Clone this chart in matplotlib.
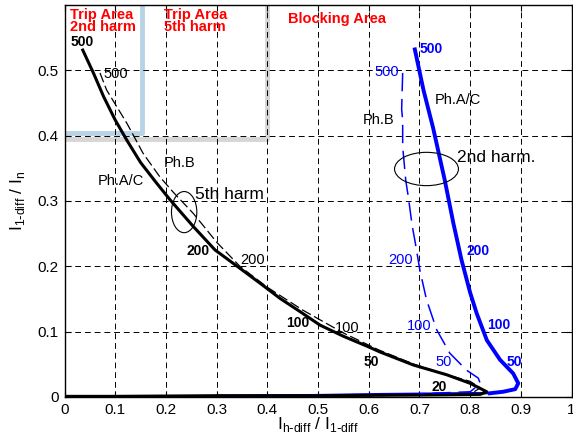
import matplotlib
matplotlib.use("Agg")
import matplotlib.pyplot as plt
from matplotlib.patches import Ellipse

plt.rcParams['font.family'] = ['Liberation Sans', 'DejaVu Sans']

# ---- data ----
xticks = [0, 0.1, 0.2, 0.3, 0.4, 0.5, 0.6, 0.7, 0.8, 0.9, 1]
yticks = [0, 0.1, 0.2, 0.3, 0.4, 0.5]

# 5th harmonic, Ph.A/C (solid black)
h5_ac_x = [0.036, 0.057, 0.077, 0.100, 0.123, 0.150, 0.180, 0.208, 0.254, 0.297, 0.346, 0.386, 0.425, 0.464, 0.504, 0.55, 0.599, 0.622, 0.688, 0.754, 0.80, 0.833,
           0.82, 0.7, 0.5, 0.3, 0.1, 0.0]
h5_ac_y = [0.531, 0.496, 0.460, 0.424, 0.393, 0.359, 0.329, 0.302, 0.261, 0.225, 0.197, 0.174, 0.151, 0.131, 0.110, 0.093, 0.077, 0.069, 0.049, 0.034, 0.021, 0.008,
           0.004, 0.003, 0.002, 0.002, 0.001, 0.001]
# 5th harmonic, Ph.B (dashed black)
h5_b_x = [0.070, 0.083, 0.123, 0.155, 0.188, 0.215, 0.254, 0.274, 0.30, 0.346, 0.40, 0.47, 0.55, 0.62, 0.69, 0.75, 0.80, 0.82, 0.80, 0.6, 0.3, 0.0]
h5_b_y = [0.496, 0.470, 0.419, 0.373, 0.337, 0.313, 0.281, 0.262, 0.237, 0.200, 0.168, 0.133, 0.098, 0.072, 0.050, 0.035, 0.024, 0.014, 0.004, 0.002, 0.001, 0.001]
# 2nd harmonic, Ph.A/C (solid blue) and its return along the bottom
h2_ac_x = [0.691, 0.708, 0.727, 0.750, 0.767, 0.783, 0.800, 0.813, 0.833, 0.859, 0.885, 0.895, 0.889, 0.865, 0.839]
h2_ac_y = [0.532, 0.470, 0.412, 0.332, 0.266, 0.210, 0.160, 0.128, 0.087, 0.057, 0.036, 0.021, 0.012, 0.008, 0.0057]
h2_ret_x = [0.839, 0.806, 0.688, 0.622, 0.5, 0.3]
h2_ret_y = [0.0057, 0.006, 0.005, 0.0045, 0.003, 0.002]
# 2nd harmonic, Ph.B (dashed blue)
h2_b_x = [0.667, 0.665, 0.667, 0.667, 0.670, 0.673, 0.678, 0.686, 0.691, 0.701, 0.714, 0.734, 0.760, 0.793, 0.816, 0.820, 0.813, 0.80, 0.7]
h2_b_y = [0.496, 0.440, 0.424, 0.383, 0.358, 0.332, 0.307, 0.261, 0.240, 0.194, 0.149, 0.103, 0.067, 0.041, 0.029, 0.021, 0.016, 0.008, 0.005]

# point annotations: (x, y, text)
black_bold_labels = [(0.011, 0.543, "500"), (0.241, 0.223, "200"), (0.438, 0.113, "100"), (0.589, 0.054, "50"), (0.724, 0.016, "20")]
black_plain_labels = [(0.076, 0.495, "500"), (0.346, 0.21, "200"), (0.533, 0.105, "100")]
blue_bold_labels = [(0.70, 0.532, "500"), (0.793, 0.223, "200"), (0.833, 0.110, "100"), (0.872, 0.054, "50")]
blue_plain_labels = [(0.612, 0.497, "500"), (0.639, 0.21, "200"), (0.675, 0.109, "100"), (0.731, 0.054, "50")]

# ---- figure ----
fig = plt.figure(figsize=(5.73, 4.45), dpi=100)
ax = fig.add_axes([64.5 / 573, 1 - 397 / 445, (571.5 - 64.5) / 573, (397 - 5) / 445])
ax.set_xlim(0, 1)
ax.set_ylim(0, 0.6)

# region boundaries
ax.plot([0, 0.4, 0.4], [0.395, 0.395, 0.6], color='#d6d6d6', lw=3.5, solid_capstyle='butt', zorder=1)
ax.plot([0, 0.152, 0.152], [0.404, 0.404, 0.6], color='#b9d3e6', lw=3.5, solid_capstyle='butt', zorder=1)

ax.set_xticks(xticks)
ax.set_yticks(yticks)
ax.set_xticklabels([('%g' % t) for t in xticks])
ax.set_yticklabels([('%g' % t) for t in yticks])
ax.grid(True, color='black', linestyle=(0, (6, 4)), lw=0.7)
ax.tick_params(direction='in', length=4, labelsize=11, top=True, right=True, pad=4)
for s in ax.spines.values():
    s.set_linewidth(1.0)

ax.plot(h5_ac_x, h5_ac_y, color='black', lw=2.2, zorder=3, solid_joinstyle='round')
ax.plot(h5_b_x, h5_b_y, color='black', lw=0.9, linestyle=(0, (8, 3)), zorder=3)
ax.plot(h2_ac_x, h2_ac_y, color='#0000ff', lw=2.8, zorder=3, solid_joinstyle='round')
ax.plot(h2_ret_x, h2_ret_y, color='#0000ff', lw=1.6, zorder=2.9)
ax.plot(h2_b_x, h2_b_y, color='#0000ff', lw=1.1, linestyle=(0, (12, 5)), zorder=3)

# ellipses
ax.add_patch(Ellipse((0.236, 0.283), 0.05, 0.063, fill=False, edgecolor='black', lw=0.8, zorder=4))
ax.add_patch(Ellipse((0.714, 0.349), 0.126, 0.051, fill=False, edgecolor='black', lw=0.8, zorder=4))

# region texts
ax.text(0.01, 0.596, "Trip Area\n2nd harm", color='red', fontweight='bold', fontsize=10.5, va='top', ha='left', linespacing=0.82)
ax.text(0.197, 0.596, "Trip Area\n5th harm", color='red', fontweight='bold', fontsize=10.5, va='top', ha='left', linespacing=0.82)
ax.text(0.44, 0.578, "Blocking Area", color='red', fontweight='bold', fontsize=10.5, va='center', ha='left')

# curve texts
ax.text(0.066, 0.33, "Ph.A/C", fontsize=10.5, va='center', ha='left')
ax.text(0.195, 0.358, "Ph.B", fontsize=10.5, va='center', ha='left')
ax.text(0.257, 0.31, "5th harm", fontsize=12.5, va='center', ha='left')
ax.text(0.731, 0.455, "Ph.A/C", fontsize=10.5, va='center', ha='left')
ax.text(0.589, 0.424, "Ph.B", fontsize=10.5, va='center', ha='left')
ax.text(0.774, 0.366, "2nd harm.", fontsize=12.5, va='center', ha='left')

for x, y, t in black_bold_labels:
    ax.text(x, y, t, fontsize=10, fontweight='bold', color='black', va='center', ha='left')
for x, y, t in black_plain_labels:
    ax.text(x, y, t, fontsize=10.5, color='black', va='center', ha='left')
for x, y, t in blue_bold_labels:
    ax.text(x, y, t, fontsize=10, fontweight='bold', color='#0000ff', va='center', ha='left')
for x, y, t in blue_plain_labels:
    ax.text(x, y, t, fontsize=10.5, color='#0000ff', va='center', ha='left')

ax.set_xlabel(r"I$_{\mathregular{h\text{-}diff}}$ / I$_{\mathregular{1\text{-}diff}}$", fontsize=12.5, labelpad=-1)
ax.set_ylabel(r"I$_{\mathregular{1\text{-}diff}}$ / I$_{\mathregular{n}}$", fontsize=12.5, labelpad=8)

fig.savefig("out.png", dpi=100)
